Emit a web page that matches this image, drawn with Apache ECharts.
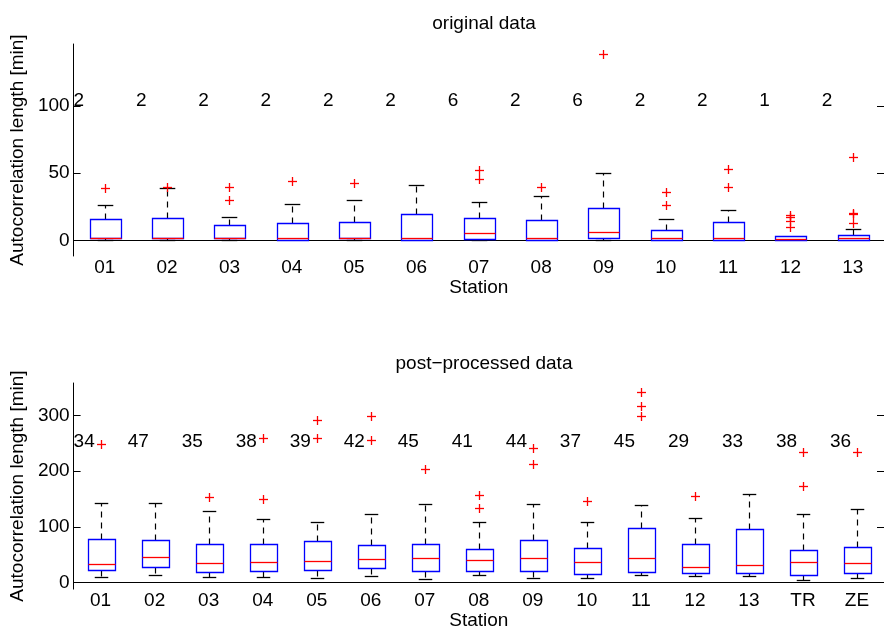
<!DOCTYPE html>
<html>
<head>
<meta charset="utf-8">
<script src="https://cdn.jsdelivr.net/npm/echarts@6/dist/echarts.min.js"></script>
<style>
  html, body { margin: 0; padding: 0; background: #fff; }
  #chart { width: 884px; height: 631px; }
</style>
</head>
<body>
<div id="chart"></div>
<script>
// ---- original data (upper panel) ----
const stationsTop = ['01','02','03','04','05','06','07','08','09','10','11','12','13'];
const lowTop    = [0, 0, 0, 0, 0, 0, 0, 0, 0, 0, 0, 0, 0];
const q1Top     = [1.7, 2, 2, 0.3, 2, 0, 0.7, 0, 2, 0, 0, 0, 0];
const medianTop = [2, 2, 2, 2, 2, 1.5, 5.7, 1.5, 6, 2, 2, 0.7, 1.5];
const q3Top     = [16.1, 16.9, 11.7, 12.7, 13.4, 19.9, 16.9, 14.9, 23.9, 7.9, 13.9, 3, 4];
const highTop   = [26.1, 39, 17.6, 27, 29.9, 41, 28.8, 33.3, 50, 15.9, 22.8, 3, 8.2];
const outliersTop = [[39], [40], [40, 30], [44], [43], [], [52, 45.6], [40], [139],
                     [35.8, 26.1], [53.2, 40], [19, 17, 14.6, 9.7], [62, 20.5, 19.3, 13]];
const countsTop = ['2','2','2','2','2','2','6','2','6','2','2','1','2'];
const ticksTop = [0, 50, 100];

// ---- post-processed data (lower panel) ----
const stationsBot = ['01','02','03','04','05','06','07','08','09','10','11','12','13','TR','ZE'];
const lowBot    = [10, 13.5, 10.6, 10, 8.8, 12.3, 7, 13.5, 7.6, 7.6, 14, 11.7, 11.7, 4.7, 7.6];
const q1Bot     = [22.3, 27.5, 18.2, 21.7, 22.9, 25.8, 21.7, 20.5, 20, 14.7, 19.3, 17, 16.5, 14, 16.5];
const medianBot = [33.4, 46.3, 34.6, 37.5, 39.2, 41.6, 44.5, 41, 43.3, 36.3, 44.5, 28.7, 32.2, 36.8, 35.7];
const q3Bot     = [79, 76.7, 68.4, 68.4, 74.4, 67.3, 69.6, 60.3, 77.2, 61.4, 97.2, 68.4, 95.4, 58.5, 63.2];
const highBot   = [142.8, 142.8, 129.3, 113.5, 108.2, 122.9, 141, 108, 141, 108, 139.3, 116.5, 159.7, 122.3, 132.3];
const outliersBot = [[249], [], [154.4], [260, 149.8], [292.5, 259], [299, 256], [203.5],
                     [158, 134], [241.6, 213.5], [145.6], [341, 317, 299], [155], [],
                     [235, 173.7], [235]];
const countsBot = ['34','47','35','38','39','42','45','41','44','37','45','29','33','38','36'];
const ticksBot = [0, 100, 200, 300];

const FONT = '"Liberation Sans", Arial, Helvetica, sans-serif';
const FS = 19;
const BLUE = '#0000ff', RED = '#ff0000', BLACK = '#000000';

function boxRows(low, q1, med, q3, high) {
  return low.map((v, i) => [i, v, q1[i], med[i], q3[i], high[i]]);
}
function outlierRows(list) {
  const rows = [];
  list.forEach((vals, i) => vals.forEach(v => rows.push([i, v])));
  return rows;
}
function countRows(counts, level) {
  return counts.map((c, i) => [i, level, c]);
}

const crisp = v => Math.round(v) + 0.5;

// box with blue outline, red median, dashed black whiskers and solid caps
function renderBox(params, api) {
  const i = api.value(0);
  const x = crisp(api.coord([i, 0])[0]);
  const band = api.size([1, 0])[0];
  const half = band * 0.25, cap = band * 0.125;
  const y = v => crisp(api.coord([i, v])[1]);
  const yLo = y(api.value(1)), yQ1 = y(api.value(2)), yMed = y(api.value(3));
  const yQ3 = y(api.value(4)), yHi = y(api.value(5));
  const dash = { stroke: BLACK, lineWidth: 1.2, lineDash: [6, 5], fill: null };
  const solid = c => ({ stroke: c, lineWidth: 1.3, fill: null });
  const kids = [];
  if (yHi < yQ3) {
    kids.push({ type: 'line', shape: { x1: x, y1: yQ3, x2: x, y2: yHi }, style: dash });
    kids.push({ type: 'line', shape: { x1: x - cap, y1: yHi, x2: x + cap, y2: yHi }, style: solid(BLACK) });
  }
  if (yLo > yQ1) {
    kids.push({ type: 'line', shape: { x1: x, y1: yQ1, x2: x, y2: yLo }, style: dash });
    kids.push({ type: 'line', shape: { x1: x - cap, y1: yLo, x2: x + cap, y2: yLo }, style: solid(BLACK) });
  }
  const xl = Math.round(x - half) + 0.5, xr = Math.round(x + half) + 0.5;
  kids.push({ type: 'rect', shape: { x: xl, y: yQ3, width: xr - xl, height: yQ1 - yQ3 }, style: solid(BLUE) });
  kids.push({ type: 'line', shape: { x1: xl, y1: yMed, x2: xr, y2: yMed }, style: solid(RED) });
  return { type: 'group', children: kids };
}

// red "+" marker for outlying values
function renderPlus(params, api) {
  const p = api.coord([api.value(0), api.value(1)]);
  const x = crisp(p[0]), y = crisp(p[1]), r = 4.5;
  const st = { stroke: RED, lineWidth: 1.3, fill: null };
  return {
    type: 'group',
    children: [
      { type: 'line', shape: { x1: x - r, y1: y, x2: x + r, y2: y }, style: st },
      { type: 'line', shape: { x1: x, y1: y - r, x2: x, y2: y + r }, style: st }
    ]
  };
}

// count text, left-aligned at the left edge of each station slot
function renderCount(params, api) {
  const p = api.coord([api.value(0), api.value(1)]);
  const band = api.size([1, 0])[0];
  return {
    type: 'text',
    x: p[0] - band / 2,
    y: p[1],
    style: {
      text: api.value(2), fill: BLACK, font: FS + 'px ' + FONT,
      align: 'left', verticalAlign: 'middle'
    }
  };
}

function xAxes(gridIndex, cats) {
  return [
    {
      type: 'category', gridIndex, data: cats, position: 'bottom', boundaryGap: true,
      axisLine: { lineStyle: { color: BLACK, width: 1 } },
      axisTick: { show: false },
      axisLabel: { color: BLACK, fontSize: FS, fontFamily: FONT, margin: 2 },
      name: 'Station', nameLocation: 'middle', nameGap: 17,
      nameTextStyle: { color: BLACK, fontSize: FS, fontFamily: FONT }
    },
    {
      type: 'category', gridIndex, data: cats, position: 'top',
      axisLine: { lineStyle: { color: BLACK, width: 1 } },
      axisTick: { show: false }, axisLabel: { show: false }
    }
  ];
}

function yAxes(gridIndex, min, max, ticks) {
  return [
    {
      type: 'value', gridIndex, min, max, position: 'left',
      splitLine: { show: false },
      axisLine: { show: true, lineStyle: { color: BLACK, width: 1 } },
      axisTick: { show: true, inside: true, length: 7, lineStyle: { color: BLACK }, customValues: ticks },
      axisLabel: { color: BLACK, fontSize: FS, fontFamily: FONT, margin: 4, customValues: ticks },
      name: 'Autocorrelation length [min]', nameLocation: 'middle', nameGap: 41,
      nameTextStyle: { color: BLACK, fontSize: FS, fontFamily: FONT }
    },
    {
      type: 'value', gridIndex, min, max, position: 'right',
      splitLine: { show: false },
      axisLine: { show: false },
      axisTick: { show: true, inside: true, length: 7, lineStyle: { color: BLACK }, customValues: ticks },
      axisLabel: { show: false }
    }
  ];
}

const chart = echarts.init(document.getElementById('chart'), null, { renderer: 'canvas' });
chart.setOption({
  animation: false,
  backgroundColor: '#fff',
  title: [
    { text: 'original data', left: 479, top: 9, textAlign: 'center',
      textStyle: { color: BLACK, fontSize: FS, fontWeight: 'normal', fontFamily: FONT } },
    { text: 'post\u2212processed data', left: 479, top: 349, textAlign: 'center',
      textStyle: { color: BLACK, fontSize: FS, fontWeight: 'normal', fontFamily: FONT } }
  ],
  grid: [
    { left: 73, top: 44, width: 813, height: 212 },
    { left: 73, top: 383, width: 813, height: 210 }
  ],
  xAxis: [...xAxes(0, stationsTop), ...xAxes(1, stationsBot)],
  yAxis: [...yAxes(0, -11.7, 146.2, ticksTop), ...yAxes(1, -11.6, 358, ticksBot)],
  series: [
    { type: 'custom', xAxisIndex: 0, yAxisIndex: 0, renderItem: renderBox,
      data: boxRows(lowTop, q1Top, medianTop, q3Top, highTop) },
    { type: 'custom', xAxisIndex: 0, yAxisIndex: 0, renderItem: renderPlus,
      data: outlierRows(outliersTop) },
    { type: 'custom', xAxisIndex: 0, yAxisIndex: 0, renderItem: renderCount,
      data: countRows(countsTop, 104) },
    { type: 'custom', xAxisIndex: 2, yAxisIndex: 2, renderItem: renderBox,
      data: boxRows(lowBot, q1Bot, medianBot, q3Bot, highBot) },
    { type: 'custom', xAxisIndex: 2, yAxisIndex: 2, renderItem: renderPlus,
      data: outlierRows(outliersBot) },
    { type: 'custom', xAxisIndex: 2, yAxisIndex: 2, renderItem: renderCount,
      data: countRows(countsBot, 253) }
  ]
});
</script>
</body>
</html>
